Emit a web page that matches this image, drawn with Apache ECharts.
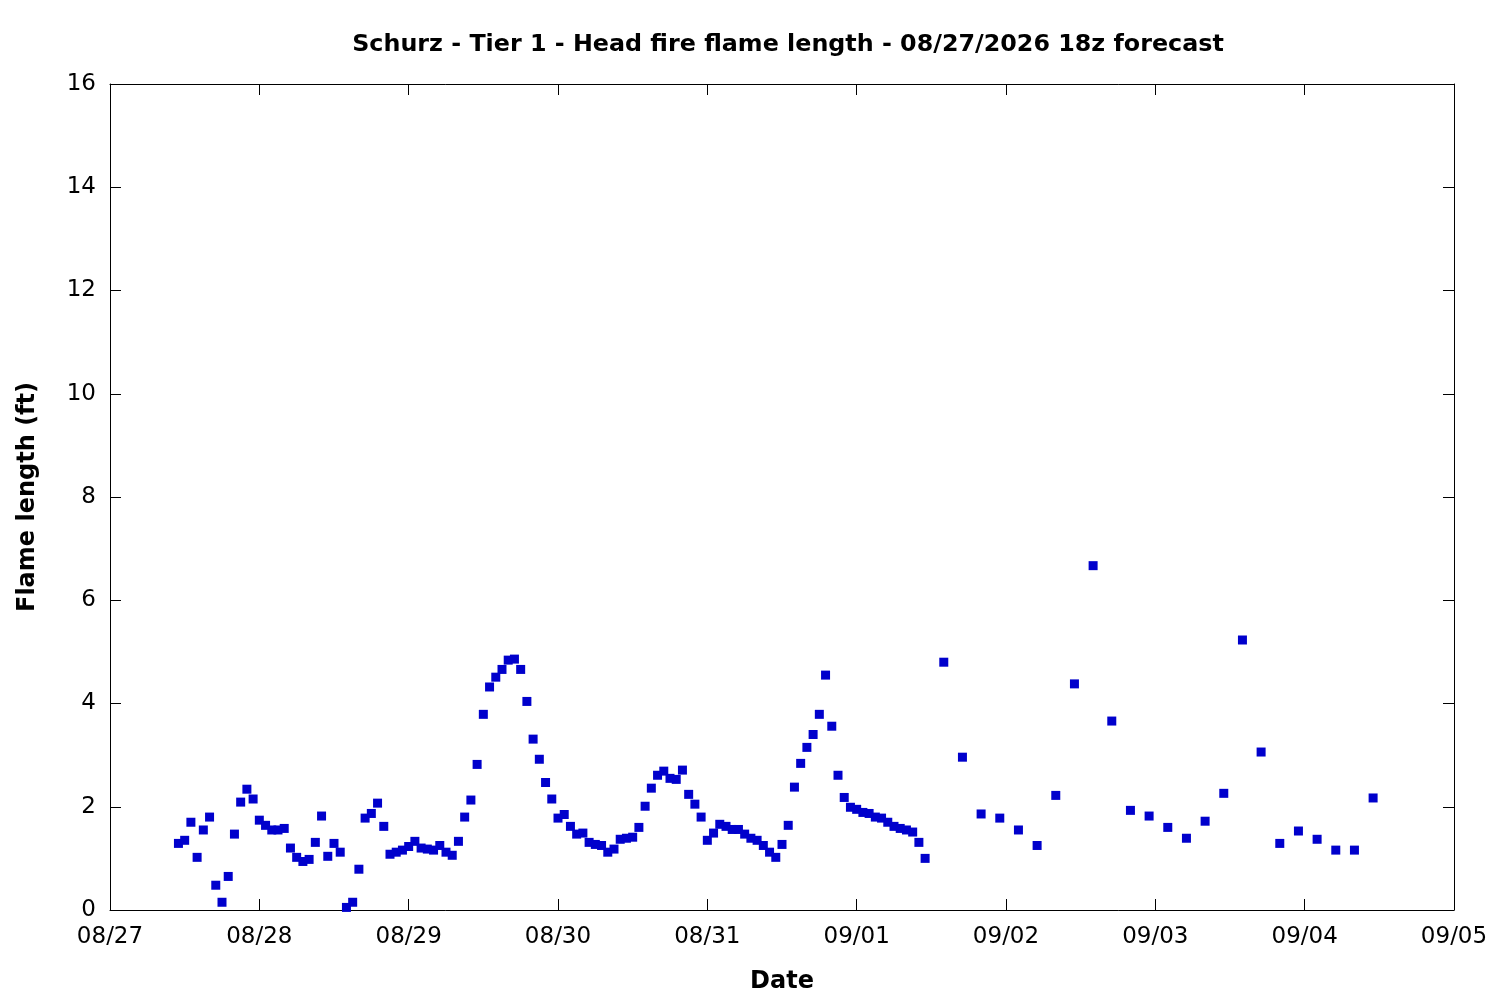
<!DOCTYPE html>
<html>
<head>
<meta charset="utf-8">
<script src="https://cdn.jsdelivr.net/npm/echarts@6/dist/echarts.min.js"></script>
<style>html,body{margin:0;padding:0;background:#fff}#c{width:1500px;height:1000px}</style>
</head>
<body>
<div id="c"></div>
<script>
// Tick labels for the date axis (one per day starting 08/27 00:00)
const dateLabels = ['08/27','08/28','08/29','08/30','08/31','09/01','09/02','09/03','09/04','09/05'];

// Hourly forecast values, first at hour 11 of 08/27
const hourlyStart = 11;
const hourlyValues = [
  1.29,1.35,1.70,1.02,1.55,1.80,0.48,0.15,0.65,1.47,
  2.09,2.34,2.15,1.74,1.64,1.55,1.55,1.58,1.20,1.02,
  0.94,0.98,1.31,1.82,1.04,1.29,1.12,0.05,0.15,0.79,
  1.78,1.87,2.07,1.62,1.08,1.12,1.16,1.23,1.33,1.20,
  1.18,1.16,1.25,1.12,1.06,1.33,1.80,2.13,2.82,3.79,
  4.32,4.51,4.66,4.84,4.86,4.66,4.04,3.31,2.92,2.47,
  2.15,1.78,1.85,1.62,1.47,1.49,1.31,1.27,1.25,1.12,
  1.18,1.37,1.39,1.41,1.60,2.01,2.36,2.61,2.69,2.55,
  2.53,2.71,2.24,2.05,1.80,1.35,1.49,1.66,1.62,1.56,
  1.56,1.47,1.39,1.35,1.25,1.12,1.02,1.27,1.64,2.38,
  2.84,3.15,3.40,3.79,4.55,3.56,2.61,2.18,1.99,1.95,
  1.89,1.87,1.80,1.78,1.70,1.62,1.58,1.55,1.51,1.31,
  1.00
];

// 3-hourly forecast values, first at hour 134 (09/01 14:00)
const threeHourlyStart = 134;
const threeHourlyValues = [
  4.80,2.96,1.86,1.78,1.55,1.25,2.22,4.38,6.67,3.66,1.93,1.82,
  1.60,1.39,1.72,2.26,5.23,3.06,1.29,1.53,1.37,1.16,1.16,2.17
];

const points = [];
hourlyValues.forEach((v, i) => points.push([hourlyStart + i, v]));
threeHourlyValues.forEach((v, i) => points.push([threeHourlyStart + 3 * i, v]));

const FONT = 'DejaVu Sans';
const axisLineStyle = { color: '#000', width: 1 };
const xBase = {
  type: 'value', min: 0, max: 216, interval: 24,
  axisLine: { show: true, onZero: false, lineStyle: axisLineStyle },
  axisTick: { show: true, inside: true, length: 11, lineStyle: axisLineStyle },
  splitLine: { show: false }
};
const yBase = {
  type: 'value', min: 0, max: 16, interval: 2,
  axisLine: { show: true, onZero: false, lineStyle: axisLineStyle },
  axisTick: { show: true, inside: true, length: 11, lineStyle: axisLineStyle },
  splitLine: { show: false }
};

const chart = echarts.init(document.getElementById('c'), null, { renderer: 'canvas' });
chart.setOption({
  backgroundColor: '#fff',
  animation: false,
  title: {
    text: 'Schurz - Tier 1 - Head fire flame length - 08/27/2026 18z forecast',
    left: 783, top: 28, textAlign: 'center',
    textStyle: { fontFamily: FONT, fontWeight: 'bold', fontSize: 23.8, color: '#000' }
  },
  grid: { left: 110, right: 46, top: 84, bottom: 90, containLabel: false },
  xAxis: [
    Object.assign({}, xBase, {
      position: 'bottom',
      name: 'Date', nameLocation: 'middle', nameGap: 60,
      nameTextStyle: { fontFamily: FONT, fontWeight: 'bold', fontSize: 24, color: '#000' },
      axisLabel: {
        show: true, margin: 16, fontFamily: FONT, fontSize: 23, color: '#000',
        formatter: v => dateLabels[Math.round(v / 24)]
      }
    }),
    Object.assign({}, xBase, { position: 'top', axisLabel: { show: false } })
  ],
  yAxis: [
    Object.assign({}, yBase, {
      position: 'left',
      name: 'Flame length (ft)', nameLocation: 'middle', nameGap: 70, nameRotate: 90,
      nameTextStyle: { fontFamily: FONT, fontWeight: 'bold', fontSize: 24, color: '#000' },
      axisLabel: { show: true, margin: 14, fontFamily: FONT, fontSize: 23, color: '#000' }
    }),
    Object.assign({}, yBase, { position: 'right', axisLabel: { show: false } })
  ],
  series: [{
    type: 'scatter',
    xAxisIndex: 0, yAxisIndex: 0,
    data: points,
    symbol: 'rect',
    symbolSize: 9,
    itemStyle: { color: '#0000cc', opacity: 1 }
  }]
});
</script>
</body>
</html>
